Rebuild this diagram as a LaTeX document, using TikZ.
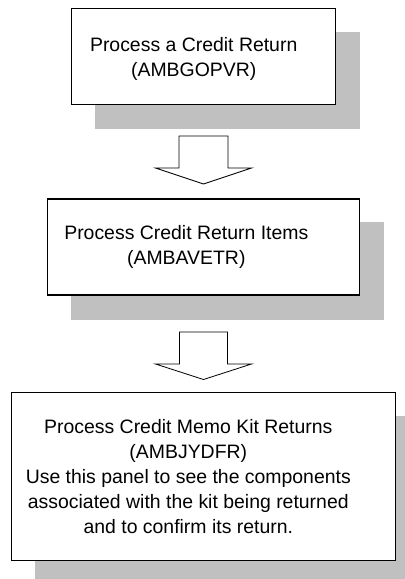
\documentclass[tikz,border=0pt]{standalone}
\usepackage{fontspec}
\setmainfont{Liberation Sans}
\usetikzlibrary{calc, backgrounds}
\definecolor{shadowGray}{HTML}{C0C0C0}
\definecolor{lineColor}{HTML}{000000}

\begin{document}
\begin{tikzpicture}[
        x=1bp, y=-1bp,
        panelBox/.style={draw=lineColor, fill=white, line width=1.5bp, inner sep=0pt},
        panelShadow/.style={fill=shadowGray},
        panelText/.style={font=\fontsize{19.5}{25}\selectfont, align=center, inner sep=0pt},
        flowArrow/.style={draw=lineColor, fill=white, line width=0.8bp, line join=miter}
    ]
        \useasboundingbox (0,0) rectangle (404,579);

        % Panels
        \node[panelBox, minimum width=264bp, minimum height=96bp, at={(203.7,56.3)}] (p1) {};
        \node[panelBox, minimum width=312bp, minimum height=96bp, at={(203.3,247)}] (p2) {};
        \node[panelBox, minimum width=384bp, minimum height=168bp, at={(203.3,476.3)}] (p3) {};

        % Drop shadows
        \begin{scope}[on background layer]
            \foreach \p in {p1, p2, p3}
                \fill[panelShadow] ([shift={(24,24)}]\p.north west) rectangle ([shift={(24,24)}]\p.south east);
        \end{scope}

        % Texts
        \node[panelText, at={([shift={(-10,3)}]p1.center)}] (t1) {Process a Credit Return \\ (AMBGOPVR)};
        \node[panelText, at={([shift={(-17,0)}]p2.center)}] (t2) {Process Credit Return Items \\ (AMBAVETR)};
        \node[panelText, at={([shift={(-15,0)}]p3.center)}] (t3) {Process Credit Memo Kit Returns \\ (AMBJYDFR) \\ Use this panel to see the components \\ associated with the kit being returned \\ and to confirm its return.};

        % Block arrows
        \coordinate (tip1) at (203.5,184);
        \coordinate (tip2) at (203.5,379.5);
        \draw[flowArrow] (tip1) -- ++(-48,-16) -- ++(23.5,0) -- ++(0,-32) -- ++(49,0) -- ++(0,32) -- ++(23.5,0) -- cycle;
        \draw[flowArrow] (tip2) -- ++(-48,-15.5) -- ++(24,0) -- ++(0,-32) -- ++(48,0) -- ++(0,32) -- ++(24,0) -- cycle;
    \end{tikzpicture}
\end{document}
